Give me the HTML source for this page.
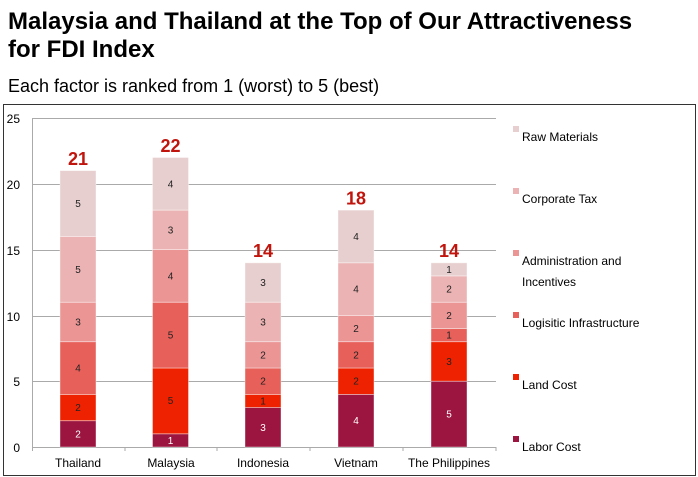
<!DOCTYPE html><html><head><style>body{margin:0;background:#fff}svg{display:block;font-family:"Liberation Sans",Arial,sans-serif}
.b rect{stroke:#fff;stroke-opacity:.5;stroke-width:.8}
.b text{font-size:10px;text-anchor:middle;fill:#222}
.b text.w{fill:#fff}
.b text.t{font-size:18px;font-weight:bold;fill:#c0140c}
</style></head><body>
<svg width="698" height="477" xmlns="http://www.w3.org/2000/svg">
<text x="8" y="29" font-size="24" font-weight="bold">Malaysia and Thailand at the Top of Our Attractiveness</text>
<text x="8" y="57" font-size="24" font-weight="bold">for FDI Index</text>
<text x="8" y="92" font-size="18">Each factor is ranked from 1 (worst) to 5 (best)</text>
<rect x="3.5" y="104.5" width="692" height="371" fill="none" stroke="#333" stroke-width="1"/>
<g stroke="#aaa" stroke-width="1">
<line x1="32" y1="118.5" x2="496" y2="118.5"/><line x1="32" y1="184.5" x2="496" y2="184.5"/><line x1="32" y1="250.5" x2="496" y2="250.5"/><line x1="32" y1="316.5" x2="496" y2="316.5"/><line x1="32" y1="381.5" x2="496" y2="381.5"/><line x1="32" y1="447.5" x2="496" y2="447.5"/>
<line x1="32.5" y1="118" x2="32.5" y2="451"/>
<line x1="125" y1="447" x2="125" y2="451"/><line x1="217" y1="447" x2="217" y2="451"/><line x1="310" y1="447" x2="310" y2="451"/><line x1="403" y1="447" x2="403" y2="451"/><line x1="496" y1="447" x2="496" y2="451"/>
</g>
<g font-size="12" text-anchor="end"><text x="20" y="123">25</text><text x="20" y="189">20</text><text x="20" y="255">15</text><text x="20" y="321">10</text><text x="20" y="386">5</text><text x="20" y="452">0</text></g>
<g font-size="12" text-anchor="middle"><text x="78" y="467">Thailand</text><text x="171" y="467">Malaysia</text><text x="263" y="467">Indonesia</text><text x="356" y="467">Vietnam</text><text x="449" y="467">The Philippines</text></g>
<g class="b">
<rect x="60" y="420.7" width="36" height="26.3" fill="#9b1540"/><rect x="60" y="394.4" width="36" height="26.3" fill="#ee2200"/><rect x="60" y="341.7" width="36" height="52.7" fill="#e8605a"/><rect x="60" y="302.2" width="36" height="39.5" fill="#eb9595"/><rect x="60" y="236.4" width="36" height="65.8" fill="#ebb3b3"/><rect x="60" y="170.6" width="36" height="65.8" fill="#e8cfcf"/>
<text class="w" x="78" y="437.4">2</text><text x="78" y="411.1">2</text><text x="78" y="371.6">4</text><text x="78" y="325.5">3</text><text x="78" y="272.8">5</text><text x="78" y="207">5</text><text class="t" x="78" y="165">21</text>

<rect x="152.5" y="433.8" width="36" height="13.2" fill="#9b1540"/><rect x="152.5" y="368" width="36" height="65.8" fill="#ee2200"/><rect x="152.5" y="302.2" width="36" height="65.8" fill="#e8605a"/><rect x="152.5" y="249.6" width="36" height="52.6" fill="#eb9595"/><rect x="152.5" y="210.1" width="36" height="39.5" fill="#ebb3b3"/><rect x="152.5" y="157.5" width="36" height="52.6" fill="#e8cfcf"/>
<text class="w" x="170.5" y="443.9">1</text><text x="170.5" y="404.1">5</text><text x="170.5" y="338.6">5</text><text x="170.5" y="279.4">4</text><text x="170.5" y="233.4">3</text><text x="170.5" y="187.3">4</text><text class="t" x="170.5" y="152">22</text>

<rect x="245" y="407.5" width="36" height="39.5" fill="#9b1540"/><rect x="245" y="394.4" width="36" height="13.1" fill="#ee2200"/><rect x="245" y="368" width="36" height="26.4" fill="#e8605a"/><rect x="245" y="341.7" width="36" height="26.3" fill="#eb9595"/><rect x="245" y="302.2" width="36" height="39.5" fill="#ebb3b3"/><rect x="245" y="262.8" width="36" height="39.4" fill="#e8cfcf"/>
<text class="w" x="263" y="430.8">3</text><text x="263" y="404.5">1</text><text x="263" y="384.7">2</text><text x="263" y="358.4">2</text><text x="263" y="325.5">3</text><text x="263" y="286">3</text><text class="t" x="263" y="257">14</text>

<rect x="338" y="394.4" width="36" height="52.6" fill="#9b1540"/><rect x="338" y="368" width="36" height="26.4" fill="#ee2200"/><rect x="338" y="341.7" width="36" height="26.3" fill="#e8605a"/><rect x="338" y="315.4" width="36" height="26.3" fill="#eb9595"/><rect x="338" y="262.8" width="36" height="52.6" fill="#ebb3b3"/><rect x="338" y="210.1" width="36" height="52.7" fill="#e8cfcf"/>
<text class="w" x="356" y="424.2">4</text><text x="356" y="384.7">2</text><text x="356" y="358.4">2</text><text x="356" y="332.1">2</text><text x="356" y="292.6">4</text><text x="356" y="239.9">4</text><text class="t" x="356" y="204.5">18</text>

<rect x="431" y="381.2" width="36" height="65.8" fill="#9b1540"/><rect x="431" y="341.7" width="36" height="39.5" fill="#ee2200"/><rect x="431" y="328.6" width="36" height="13.1" fill="#e8605a"/><rect x="431" y="302.2" width="36" height="26.4" fill="#eb9595"/><rect x="431" y="275.9" width="36" height="26.3" fill="#ebb3b3"/><rect x="431" y="262.8" width="36" height="13.1" fill="#e8cfcf"/>
<text class="w" x="449" y="417.6">5</text><text x="449" y="364.9">3</text><text x="449" y="338.7">1</text><text x="449" y="318.9">2</text><text x="449" y="292.6">2</text><text x="449" y="272.8">1</text><text class="t" x="449" y="257">14</text>
</g>
<g font-size="12">
<rect x="513" y="126" width="6" height="6" fill="#e8cfcf"/><text x="522" y="141">Raw Materials</text>
<rect x="513" y="188" width="6" height="6" fill="#ebb3b3"/><text x="522" y="203">Corporate Tax</text>
<rect x="513" y="250" width="6" height="6" fill="#eb9595"/><text x="522" y="265">Administration and</text><text x="522" y="286">Incentives</text>
<rect x="513" y="312" width="6" height="6" fill="#e8605a"/><text x="522" y="327">Logisitic Infrastructure</text>
<rect x="513" y="374" width="6" height="6" fill="#ee2200"/><text x="522" y="389">Land Cost</text>
<rect x="513" y="436" width="6" height="6" fill="#9b1540"/><text x="522" y="451">Labor Cost</text>
</g>
</svg></body></html>
